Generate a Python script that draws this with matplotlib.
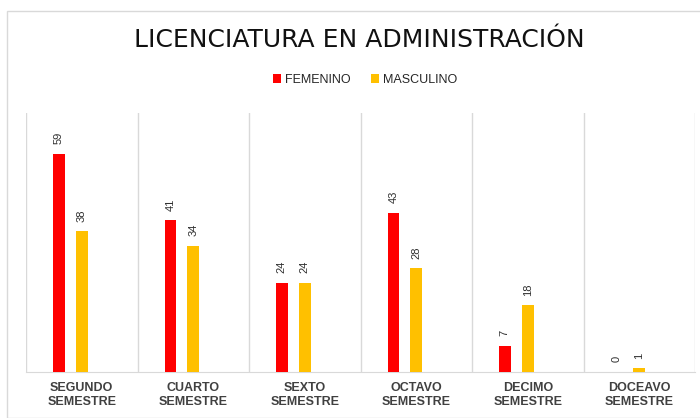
import matplotlib
matplotlib.use('Agg')
import matplotlib.pyplot as plt
from matplotlib.patches import Rectangle
import numpy as np

title = 'LICENCIATURA EN ADMINISTRACIÓN'
categories = ['SEGUNDO\nSEMESTRE', 'CUARTO\nSEMESTRE', 'SEXTO\nSEMESTRE',
              'OCTAVO\nSEMESTRE', 'DECIMO\nSEMESTRE', 'DOCEAVO\nSEMESTRE']
femenino = [59, 41, 24, 43, 7, 0]
masculino = [38, 34, 24, 28, 18, 1]

red = '#FF0000'
yellow = '#FFC000'
grey_txt = '#404040'
sans = ['Liberation Sans', 'DejaVu Sans']

fig = plt.figure(figsize=(7, 4.18), dpi=100)
W, H = 700, 418
ax = fig.add_axes([26 / W, 1 - 372 / H, (695 - 26) / W, (372 - 113) / H])

# outer chart frame
fig.patches.append(Rectangle((7 / W, 0), 1, 1 - 11 / H, transform=fig.transFigure,
                             fill=False, edgecolor='#d9d9d9', linewidth=1))

x = np.arange(len(categories))
bw = 0.105
ax.bar(x - 0.205, femenino, bw, color=red, label='FEMENINO', zorder=3)
ax.bar(x, masculino, bw, color=yellow, label='MASCULINO', zorder=3)

for xi, v in zip(x - 0.205, femenino):
    ax.annotate(str(v), (xi, v), xytext=(0, 7), textcoords='offset points',
                rotation=90, ha='center', va='bottom', fontsize=8,
                color='#303030', family=sans)
for xi, v in zip(x, masculino):
    ax.annotate(str(v), (xi, v), xytext=(0, 7), textcoords='offset points',
                rotation=90, ha='center', va='bottom', fontsize=8,
                color='#303030', family=sans)

ax.set_xlim(-0.5, len(categories) - 0.5)
ax.set_ylim(0, 70)
ax.set_yticks([])
ax.set_xticks(x)
ax.set_xticklabels(categories, fontsize=9, fontweight='bold', color=grey_txt,
                   family=sans, linespacing=1.3)
ax.tick_params(axis='x', length=0, pad=7)
ax.set_xticks(np.arange(-0.5, len(categories)), minor=True)
ax.tick_params(axis='x', which='minor', length=0)
ax.grid(True, axis='x', which='minor', color='#d9d9d9', linewidth=1, zorder=0)
for s in ['top', 'left', 'right']:
    ax.spines[s].set_visible(False)
ax.spines['bottom'].set_color('#d9d9d9')

fig.text(359 / W, 1 - 40 / H, title, ha='center', va='center', fontsize=18,
         color='#111111', family='DejaVu Sans')

fig.legend(loc='center', bbox_to_anchor=(365 / W, 1 - 80 / H), ncol=2, frameon=False,
           handlelength=0.7, handleheight=0.7, handletextpad=0.3, columnspacing=1.6,
           prop={'family': sans, 'size': 9}, labelcolor='#262626')

fig.savefig('out.png', dpi=100)
